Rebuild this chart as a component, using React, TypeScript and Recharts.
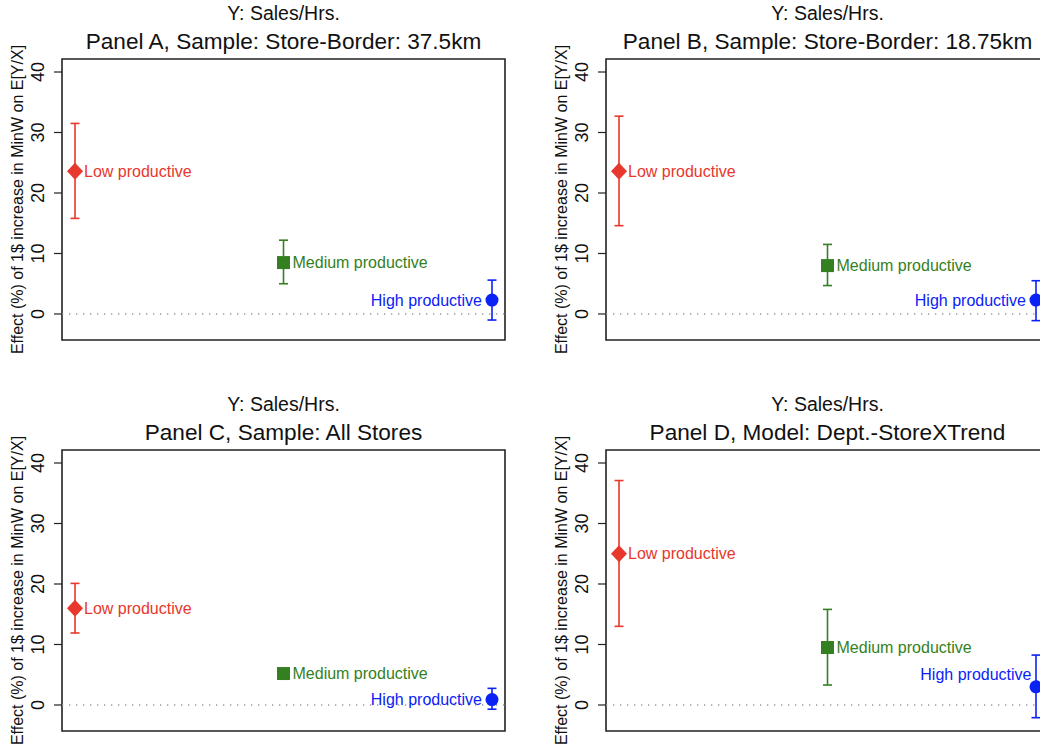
import React from 'react';
import { ScatterChart, Scatter, XAxis, YAxis, ErrorBar, ReferenceLine, ReferenceArea } from 'recharts';

const categories = ['Low productive', 'Medium productive', 'High productive'];
const categoryX = [1, 2, 3];
const categoryColors = ['#E8372C', '#347F22', '#0B22F6'];
const categoryShapes = ['diamond', 'square', 'circle'];
const labelSides = ['right', 'right', 'left'];

const outcomeLabel = 'Y: Sales/Hrs.';
const yAxisLabel = 'Effect (%) of 1$ increase in MinW on E[Y/X]';
const yTicks = [0, 10, 20, 30, 40];
const yDomain: [number, number] = [-4.3, 42.15];
const xDomain: [number, number] = [0.9376, 3.0624];

const panelTitles = [
  'Panel A, Sample: Store-Border: 37.5km',
  'Panel B, Sample: Store-Border: 18.75km',
  'Panel C, Sample: All Stores',
  'Panel D, Model: Dept.-StoreXTrend',
];

const panelAEstimate = [23.6, 8.5, 2.3];
const panelALower = [15.8, 5.0, -1.0];
const panelAUpper = [31.5, 12.2, 5.6];

const panelBEstimate = [23.6, 8.0, 2.3];
const panelBLower = [14.6, 4.7, -1.1];
const panelBUpper = [32.7, 11.5, 5.5];

const panelCEstimate = [16.0, 5.2, 0.9];
const panelCLower = [11.9, 4.7, -0.7];
const panelCUpper = [20.1, 5.7, 2.75];

const panelDEstimate = [25.0, 9.5, 3.0];
const panelDLower = [13.0, 3.3, -2.1];
const panelDUpper = [37.1, 15.8, 8.25];

// label nudges (px) per panel for the "High productive" label
const highLabelNudge = [
  { dx: 0, dy: 0 },
  { dx: 0, dy: 0 },
  { dx: 0, dy: 0 },
  { dx: 5.5, dy: -13 },
];

const panels = [
  { title: panelTitles[0], est: panelAEstimate, lo: panelALower, hi: panelAUpper, left: 0, top: 0, nudge: highLabelNudge[0] },
  { title: panelTitles[1], est: panelBEstimate, lo: panelBLower, hi: panelBUpper, left: 543.7, top: 0, nudge: highLabelNudge[1] },
  { title: panelTitles[2], est: panelCEstimate, lo: panelCLower, hi: panelCUpper, left: 0, top: 391, nudge: highLabelNudge[2] },
  { title: panelTitles[3], est: panelDEstimate, lo: panelDLower, hi: panelDUpper, left: 543.7, top: 391, nudge: highLabelNudge[3] },
];

const FONT = '"Liberation Sans", Arial, Helvetica, sans-serif';
const CW = 520;
const CH = 350;
const M = { top: 59, right: 15, bottom: 10, left: 2 };
const Y_AXIS_W = 60;
const PLOT_LEFT = M.left + Y_AXIS_W;
const PLOT_W = CW - PLOT_LEFT - M.right;
const PLOT_H = CH - M.top - M.bottom;

const RotatedTick = (props: any) => {
  const { x, y, payload } = props;
  return (
    <text
      transform={`translate(${x},${y}) rotate(-90)`}
      textAnchor="middle"
      fontSize={18}
      fontFamily={FONT}
      fill="#111"
    >
      {payload.value}
    </text>
  );
};

const makeShape = (idx: number, nudge: { dx: number; dy: number }) => (props: any) => {
  const { cx, cy, payload } = props;
  const color = categoryColors[idx];
  const kind = categoryShapes[idx];
  let marker: React.ReactNode = null;
  if (kind === 'diamond') {
    marker = <polygon points={`${cx},${cy - 8.5} ${cx + 8},${cy} ${cx},${cy + 8.5} ${cx - 8},${cy}`} fill={color} />;
  } else if (kind === 'square') {
    marker = <rect x={cx - 6.5} y={cy - 6.5} width={13} height={13} fill={color} />;
  } else {
    marker = <circle cx={cx} cy={cy} r={6.5} fill={color} />;
  }
  const right = labelSides[idx] === 'right';
  const dx = right ? 0 : nudge.dx;
  const dy = right ? 0 : nudge.dy;
  return (
    <g>
      {marker}
      <text
        x={(right ? cx + 9 : cx - 10) + dx}
        y={cy + 5.7 + dy}
        textAnchor={right ? 'start' : 'end'}
        fontSize={16}
        fontFamily={FONT}
        fill={color}
      >
        {payload.name}
      </text>
    </g>
  );
};

const Panel = ({ p }: { p: any }) => {
  return (
    <div style={{ position: 'absolute', left: p.left, top: p.top, width: CW, height: CH }}>
      <ScatterChart width={CW} height={CH} margin={M}>
        <XAxis type="number" dataKey="x" domain={xDomain} allowDataOverflow hide />
        <YAxis
          type="number"
          dataKey="y"
          domain={yDomain}
          allowDataOverflow
          ticks={yTicks}
          width={Y_AXIS_W}
          axisLine={false}
          tickLine={{ stroke: '#222', strokeWidth: 1.2 }}
          tickSize={8}
          tickMargin={10}
          tick={<RotatedTick />}
        />
        <ReferenceLine y={0} stroke="#9a9a9a" strokeWidth={1.3} strokeDasharray="1.3 5.7" />
        <ReferenceArea
          x1={xDomain[0]}
          x2={xDomain[1]}
          y1={yDomain[0]}
          y2={yDomain[1]}
          fill="none"
          fillOpacity={0}
          stroke="#222"
          strokeWidth={1.6}
        />
        {categories.map((name, i) => (
          <Scatter
            key={name}
            data={[{ x: categoryX[i], y: p.est[i], err: [p.est[i] - p.lo[i], p.hi[i] - p.est[i]], name }]}
            fill={categoryColors[i]}
            shape={makeShape(i, p.nudge)}
            isAnimationActive={false}
          >
            <ErrorBar dataKey="err" direction="y" width={4.5} stroke={categoryColors[i]} strokeWidth={1.6} isAnimationActive={false} />
          </Scatter>
        ))}
      </ScatterChart>
      <svg
        width={CW}
        height={CH}
        style={{ position: 'absolute', left: 0, top: 0, pointerEvents: 'none', overflow: 'visible' }}
      >
        <text x={PLOT_LEFT + PLOT_W / 2} y={20} textAnchor="middle" fontSize={19.5} fontFamily={FONT} fill="#111">
          {outcomeLabel}
        </text>
        <text x={PLOT_LEFT + PLOT_W / 2} y={49} textAnchor="middle" fontSize={22.6} fontFamily={FONT} fill="#111">
          {p.title}
        </text>
        <text
          transform={`translate(${PLOT_LEFT - 39},${M.top + PLOT_H / 2}) rotate(-90)`}
          textAnchor="middle"
          fontSize={16}
          fontFamily={FONT}
          fill="#111"
        >
          {yAxisLabel}
        </text>
      </svg>
    </div>
  );
};

export default function App() {
  return (
    <div
      style={{
        position: 'absolute',
        left: 0,
        top: 0,
        width: 1040,
        height: 748,
        overflow: 'hidden',
        background: '#fff',
      }}
    >
      {panels.map((p) => (
        <Panel key={p.title} p={p} />
      ))}
    </div>
  );
}
